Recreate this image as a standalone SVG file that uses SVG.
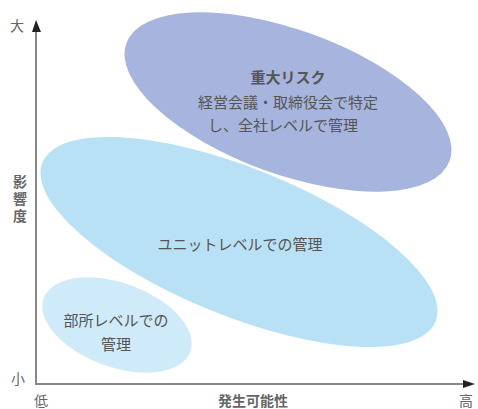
<svg xmlns="http://www.w3.org/2000/svg" width="478" height="409" viewBox="0 0 478 409">
<style>
.t{font-family:"Noto Sans CJK JP","Noto Sans CJK SC",sans-serif;fill:#555;text-anchor:middle}
.ax{font-family:"Noto Sans CJK JP",sans-serif;fill:#666;font-size:14px}
.axl{stroke:#888;stroke-width:2;fill:none}
</style>
<rect width="478" height="409" fill="#fff"/>
<g id="major-risk">
<ellipse cx="288" cy="102" rx="172" ry="72" transform="rotate(20 288 102)" fill="#a7b4dd"/>
<text class="t" x="288" y="83" font-size="15" font-weight="bold" fill="#444">重大リスク</text>
<text class="t" x="288" y="108" font-size="15">経営会議・取締役会で特定</text>
<text class="t" x="283" y="131" font-size="15">し、全社レベルで管理</text>
</g>
<g id="unit-level">
<ellipse cx="239" cy="242" rx="212" ry="74" transform="rotate(22 239 242)" fill="#b9e1f6"/>
<text class="t" x="240" y="250" font-size="15">ユニットレベルでの管理</text>
</g>
<g id="dept-level">
<ellipse cx="117" cy="325" rx="78" ry="42" transform="rotate(20 117 325)" fill="#cfeaf8"/>
<text class="t" x="116" y="326" font-size="15">部所レベルでの</text>
<text class="t" x="116" y="350" font-size="15">管理</text>
</g>
<g id="axes">
<line class="axl" x1="36" y1="30" x2="36" y2="384"/>
<line class="axl" x1="35" y1="384" x2="464" y2="384"/>
<polygon points="36,20 32,32 41,32" fill="#222"/>
<polygon points="475,384 463,380 463,388" fill="#222"/>
</g>
<g id="labels">
<text class="ax" x="10" y="31">大</text>
<text class="ax" x="11" y="384">小</text>
<text class="ax" x="34" y="406">低</text>
<text class="ax" x="253" y="406" text-anchor="middle" font-weight="bold">発生可能性</text>
<text class="ax" x="459" y="406">高</text>
<text class="ax" x="20" y="175" font-weight="bold" style="writing-mode:vertical-rl;letter-spacing:3px">影響度</text>
</g>
</svg>
